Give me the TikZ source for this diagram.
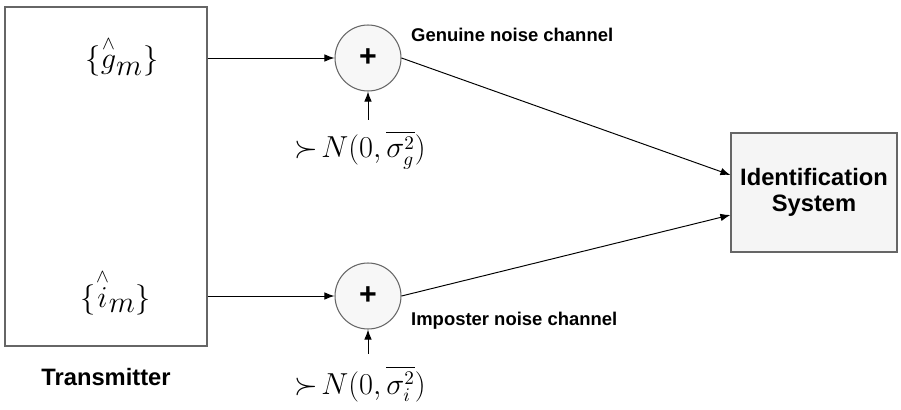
\documentclass[tikz,border=0pt]{standalone}
\usepackage{amsmath}
\usepackage{amssymb}
\usepackage{fontspec}
\setmainfont{Liberation Serif}
\setsansfont{Liberation Sans}
\usepackage{tikz}
\usetikzlibrary{positioning}
\usetikzlibrary{calc}
\usetikzlibrary{arrows.meta}

\begin{document}
\begin{tikzpicture}[x=0.02cm,y=-0.02cm,
    blk/.style={draw=black!60,line width=0.7pt,inner sep=0pt},
    adder/.style={circle,draw=black!60,line width=0.6pt,fill=black!3,minimum size=1.32cm,inner sep=0pt,font=\sffamily\bfseries\LARGE},
    lbl/.style={font=\sffamily\bfseries\fontsize{10.5}{12}\selectfont},
    biglbl/.style={font=\sffamily\bfseries\fontsize{13.5}{15}\selectfont},
    mlbl/.style={font=\fontsize{16}{18}\selectfont},
    sig/.style={-{Latex[length=2mm,width=1.5mm]},line width=0.55pt}]
\useasboundingbox (0,0) rectangle (901,409);

% blocks
\node[blk,minimum width=4.04cm,minimum height=6.78cm] (tx) at (106,176.5) {};
\node[biglbl] (txlabel) at (106,377) {Transmitter};
\node[mlbl] (gm) at (122,56) {$\{\overset{\wedge}{g}_{\textstyle m}\}$};
\node[mlbl] (im) at (116,292) {$\{\overset{\wedge}{i}_{\textstyle m}\}$};

\node[adder] (addg) at (368,58) {+};
\node[adder] (addi) at (368,296) {+};

\node[blk,fill=black!4,minimum width=3.32cm,minimum height=2.38cm,align=center,biglbl] (id) at (814,192.5) {Identification\\System};

% noise sources
\node[mlbl] (ng) at (360,150) {$\succ\! N(0,\overline{\sigma^{2}_{g}})$};
\node[mlbl] (ni) at (360,384) {$\succ\! N(0,\overline{\sigma^{2}_{i}})$};

\node[lbl,anchor=west] (gch) at (405,35) {Genuine noise channel};
\node[lbl,anchor=west] (ich) at (405,321) {Imposter noise channel};

% connectors
\draw[sig] (tx.east |- addg.west) -- (addg.west);
\draw[sig] (tx.east |- addi.west) -- (addi.west);
\draw[sig] ($(addg.south)+(0,28)$) -- (addg.south);
\draw[sig] ($(addi.south)+(0,24)$) -- (addi.south);
\draw[sig] (addg.east) -- ([yshift=0.35cm]id.west);
\draw[sig] (addi.east) -- ([yshift=-0.45cm]id.west);
\end{tikzpicture}
\end{document}
